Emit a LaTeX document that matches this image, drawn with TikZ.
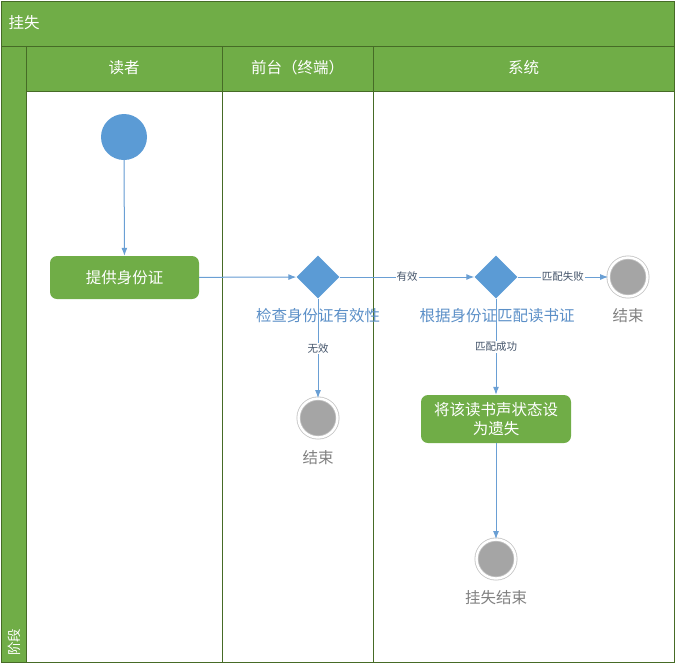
\documentclass[tikz,border=0pt]{standalone}
\usepackage{fontspec}
\setmainfont{Noto Sans CJK SC}
\usetikzlibrary{arrows.meta, positioning, shapes.geometric}
\definecolor{lanegreen}{HTML}{70AD47}
\definecolor{laneline}{HTML}{466B26}
\definecolor{actblue}{HTML}{5B9BD5}
\definecolor{flowblue}{HTML}{6A9FD4}
\definecolor{capblue}{HTML}{5B8FC7}
\definecolor{endgray}{HTML}{A5A5A5}
\definecolor{ringgray}{HTML}{C4C4C4}
\definecolor{guardtxt}{HTML}{44546A}
\newcommand{\bigtxt}{\fontsize{15.5}{19}\selectfont}
\newcommand{\smalltxt}{\fontsize{10.5}{12}\selectfont}

\begin{document}
\begin{tikzpicture}[x=1pt, y=-1pt, >={Latex[length=8pt,width=6pt]},
  hdr/.style={text=white, font=\bigtxt},
  act/.style={fill=lanegreen, rounded corners=7pt, text=white, font=\bigtxt, align=center, inner sep=0pt},
  st/.style={circle, fill=actblue, minimum size=46pt, inner sep=0pt},
  dec/.style={diamond, fill=actblue, minimum width=43pt, minimum height=43pt, inner sep=0pt},
  fin/.style={circle, fill=endgray, draw=ringgray, line width=0.8pt, double=white, double distance=2.4pt, minimum size=39pt, inner sep=0pt},
  flow/.style={->, draw=flowblue, fill=flowblue, line width=1pt},
  guard/.style={fill=white, text=guardtxt, font=\smalltxt, inner sep=1pt},
  deccap/.style={text=capblue, font=\bigtxt},
  fincap/.style={text=gray, font=\bigtxt}]
\useasboundingbox (0,0) rectangle (675,667);
% swimlane frame
\fill[lanegreen] (1,1) rectangle (674,91);
\fill[lanegreen] (1,91) rectangle (26,662);
\draw[laneline] (1,1) rectangle (674,662);
\draw[laneline] (1,46) -- (674,46);
\draw[laneline] (26,91) -- (674,91);
\draw[laneline] (26,46) -- (26,662);
\draw[laneline] (222,46) -- (222,662);
\draw[laneline] (373,46) -- (373,662);
\node[hdr, anchor=west] (title) at (5,23) {挂失};
\node[hdr] (reader) at (124,68) {读者};
\node[hdr] (desk) at (297.5,68) {前台（终端）};
\node[hdr] (system) at (523.5,68) {系统};
\node[text=white, font=\fontsize{13.5}{15}\selectfont, rotate=90] (phase) at (14,642) {阶段};
% activities
\node[st] (init) at (124,137) {};
\node[act, minimum width=149pt, minimum height=43pt] (show) at (124.5,277.5) {提供身份证};
\node[dec] (check) at (318,277) {};
\node[deccap] (checkcap) at (318,316) {检查身份证有效性};
\node[fin] (end1) at (318,418) {};
\node[fincap] (end1cap) at (318,458) {结束};
\node[dec] (match) at (496,277) {};
\node[deccap] (matchcap) at (497,316) {根据身份证匹配读书证};
\node[fin] (end2) at (628,277) {};
\node[fincap] (end2cap) at (628,316) {结束};
\node[act, minimum width=150pt, minimum height=48pt] (lose) at (496,419) {将该读书声状态设\\为遗失};
\node[fin] (end3) at (496,559) {};
\node[fincap] (end3cap) at (496,598) {挂失结束};
% flows
\draw[flow] (init) -- (show);
\draw[flow] (show) -- (check);
\draw[flow] (check) -- node[guard] {无效} (end1);
\draw[flow] (check) -- node[guard] {有效} (match);
\draw[flow] (match) -- node[guard] {匹配失败} (end2);
\draw[flow] (match) -- node[guard] {匹配成功} (lose);
\draw[flow] (lose) -- (end3);
\end{tikzpicture}
\end{document}
